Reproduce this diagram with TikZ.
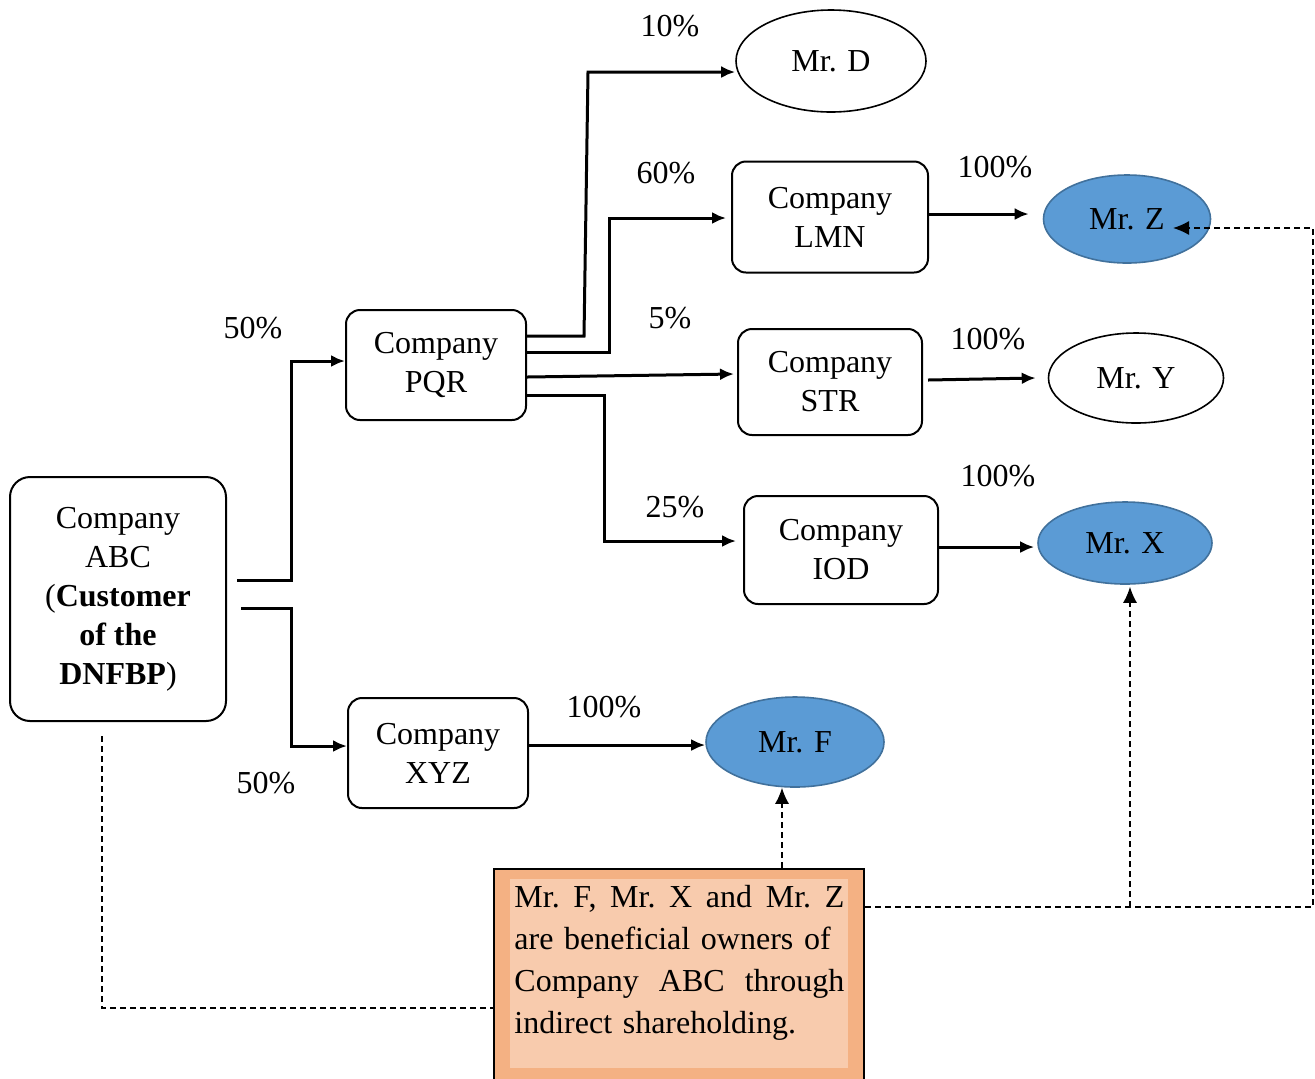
\documentclass[tikz,border=0pt]{standalone}
\usepackage{fontspec}
\setmainfont{Liberation Serif}
\usetikzlibrary{shapes.geometric,arrows.meta}
\definecolor{ownerblue}{HTML}{5B9BD5}
\definecolor{ownerline}{HTML}{41719C}
\definecolor{noteout}{HTML}{F4B183}
\definecolor{notein}{HTML}{F8CBAD}

\begin{document}
\begin{tikzpicture}[x=0.5pt,y=-0.5pt,>={Latex[length=7pt,width=6pt]},
  font=\fontsize{16}{19.5}\selectfont,
  compbox/.style={draw,line width=1pt,rounded corners=7pt,align=center,inner sep=0pt},
  person/.style={draw,ellipse,line width=0.8pt,inner sep=0pt},
  owner/.style={person,fill=ownerblue,draw=ownerline},
  conn/.style={line width=1.5pt,->},
  dline/.style={line width=0.7pt,dash pattern=on 3pt off 2pt},
  darrow/.style={dline,-{Latex[length=8pt,width=7pt]}},
  pct/.style={inner sep=0pt}]
\useasboundingbox (0,0) rectangle (1315,1078);

% companies
\node[compbox,rounded corners=10pt,minimum width=108pt,minimum height=122pt] (abc) at (118,599)
  {Company\\ABC\\(\textbf{Customer}\\\textbf{of the}\\\textbf{DNFBP})};
\node[compbox,minimum width=90pt,minimum height=55pt] (pqr) at (436,365) {Company\\PQR};
\node[compbox,minimum width=90pt,minimum height=55pt] (xyz) at (438,753) {Company\\XYZ};
\node[compbox,minimum width=98pt,minimum height=55.5pt] (lmn) at (830,217) {Company\\LMN};
\node[compbox,minimum width=92pt,minimum height=53pt] (str) at (830,382) {Company\\STR};
\node[compbox,minimum width=97pt,minimum height=54pt] (iod) at (841,550) {Company\\IOD};

% persons
\node[person,minimum width=95pt,minimum height=51pt] (mrD) at (831,61) {Mr. D};
\node[owner,minimum width=83.5pt,minimum height=44pt] (mrZ) at (1127,219) {Mr. Z};
\node[person,minimum width=87.5pt,minimum height=45pt] (mrY) at (1136,378) {Mr. Y};
\node[owner,minimum width=87pt,minimum height=41pt] (mrX) at (1125,543) {Mr. X};
\node[owner,minimum width=89pt,minimum height=45pt] (mrF) at (795,742) {Mr. F};

% note
\node[draw,line width=1pt,fill=noteout,minimum width=185pt,minimum height=105.5pt,inner sep=0pt] (note) at (679,974.5) {};
\node[fill=notein,minimum width=169pt,minimum height=94.5pt,inner sep=0pt] (noteIn) at (679,973.5) {};
\node[anchor=base west,text width=165pt,align=left,inner sep=0pt,font=\fontsize{16}{21}\selectfont]
  (noteTxt) at (514,907) {\makebox[165pt]{Mr.\hfill F,\hfill Mr.\hfill X\hfill and\hfill Mr.\hfill Z}\\
  are beneficial owners of\\
  \makebox[165pt]{Company\hfill ABC\hfill through}\\
  indirect shareholding.};

% shares
\draw[conn] ([xshift=5pt]abc.east |- 0,580) -- (291,580) |- (pqr.west |- 0,361);
\draw[conn] ([xshift=7pt]abc.east |- 0,608) -- (291,608) |- (xyz.west |- 0,746);
\draw[conn] (pqr.east |- 0,336) -- (584,336) -- (588,72) -- (mrD.west |- 0,72);
\draw[conn] (pqr.east |- 0,352) -- (609,352) |- ([xshift=-2.5pt]lmn.west |- 0,218);
\draw[conn] (pqr.east |- 0,377) -- ([xshift=-1.5pt]str.west |- 0,374);
\draw[conn] (pqr.east |- 0,395) -- (604,395) -- (604,541) -- ([xshift=-3.5pt]iod.west |- 0,541);
\draw[conn] (lmn.east |- 0,214) -- ([xshift=-7pt]mrZ.west |- 0,214);
\draw[conn] ([xshift=2.5pt]str.east |- 0,380) -- ([xshift=-6pt]mrY.west |- 0,378);
\draw[conn] (iod.east |- 0,547) -- ([xshift=-1.5pt]mrX.west |- 0,547);
\draw[conn] (xyz.east |- 0,745) -- (mrF.west |- 0,745);

\node[pct] (pD) at (670,26) {10\%};
\node[pct] (pLMN) at (666,173) {60\%};
\node[pct] (pSTR) at (670,318) {5\%};
\node[pct] (pIOD) at (675,507) {25\%};
\node[pct] (pPQR) at (253,328) {50\%};
\node[pct] (pXYZ) at (266,783) {50\%};
\node[pct] (pZ) at (995,167) {100\%};
\node[pct] (pY) at (988,339) {100\%};
\node[pct] (pX) at (998,476) {100\%};
\node[pct] (pF) at (604,707) {100\%};

% beneficial owners
\draw[dline] ([shift={(-16,14)}]abc.south) |- (note.west |- 0,1008);
\draw[darrow] (note.north -| 782,0) -- (mrF.south -| 782,0);
\draw[darrow] (note.east |- 0,907) -- (1130,907) coordinate (xJoin) -- (1313,907) |- ([shift={(46,9)}]mrZ.center);
\draw[darrow] (xJoin) -- ([yshift=-1pt]mrX.south -| xJoin);

\end{tikzpicture}
\end{document}
